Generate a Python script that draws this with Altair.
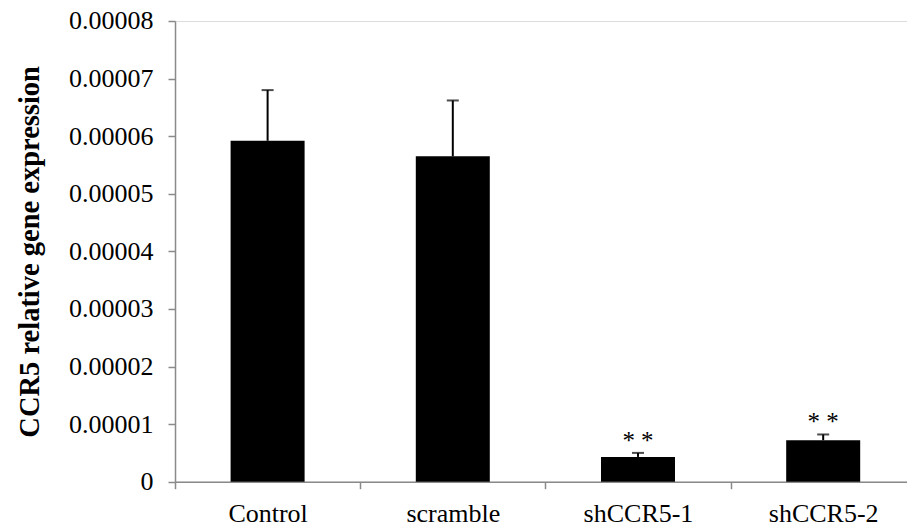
import altair as alt
import pandas as pd

categories = ["Control", "scramble", "shCCR5-1", "shCCR5-2"]
means = [0.0000592, 0.0000565, 0.0000043, 0.0000072]
upper = [0.0000680, 0.0000662, 0.0000050, 0.0000082]
stars = ["", "", "* *", "* *"]
y_ticks = [0, 0.00001, 0.00002, 0.00003, 0.00004, 0.00005, 0.00006, 0.00007, 0.00008]

df = pd.DataFrame({"cat": categories, "mean": means, "upper": upper, "star": stars})

FONT = "Liberation Serif"
AXIS_GRAY = "#8a8a8a"

xscale = alt.Scale(domain=categories, range=[0, 740.8], paddingInner=0, paddingOuter=0)
yscale = alt.Scale(domain=[0, 0.00008], nice=False, zero=True)

x_enc = alt.X(
    "cat:N",
    scale=xscale,
    sort=categories,
    axis=alt.Axis(
        title=None,
        labelAngle=0,
        labelFont=FONT,
        labelFontSize=26,
        labelColor="black",
        labelPadding=12,
        tickBand="extent",
        tickSize=7,
        tickColor=AXIS_GRAY,
        tickWidth=1.5,
        domainColor=AXIS_GRAY,
        domainWidth=1.5,
        grid=False,
    ),
)

y_enc = alt.Y(
    "mean:Q",
    scale=yscale,
    axis=alt.Axis(
        title="CCR5 relative gene expression",
        titleFont=FONT,
        titleFontSize=28.5,
        titleFontWeight="bold",
        titleColor="black",
        titlePadding=24,
        values=y_ticks,
        labelExpr="datum.value == 0 ? '0' : format(datum.value, '.5f')",
        labelFont=FONT,
        labelFontSize=26,
        labelColor="black",
        labelPadding=15,
        tickSize=7,
        tickColor=AXIS_GRAY,
        tickWidth=1.5,
        domainColor=AXIS_GRAY,
        domainWidth=1.5,
        grid=False,
    ),
)

base = alt.Chart(df)

bars = base.mark_bar(color="black", size=74).encode(x=x_enc, y=y_enc)

err = base.mark_rule(color="black", strokeWidth=2).encode(
    x=alt.X("cat:N", scale=xscale, sort=categories),
    y=alt.Y("mean:Q", scale=yscale),
    y2="upper:Q",
)

caps = base.mark_tick(color="black", orient="horizontal", size=12, thickness=2).encode(
    x=alt.X("cat:N", scale=xscale, sort=categories),
    y=alt.Y("upper:Q", scale=yscale),
)

star_text = base.mark_text(
    font=FONT, fontSize=25, color="black", baseline="alphabetic", align="center", dy=-4
).encode(
    x=alt.X("cat:N", scale=xscale, sort=categories),
    y=alt.Y("upper:Q", scale=yscale),
    text="star:N",
)

chart = (
    alt.layer(bars, err, caps, star_text)
    .properties(
        width=732,
        height=460.7,
        autosize=alt.AutoSizeParams(type="none"),
        padding={"left": 175, "top": 21, "right": 0, "bottom": 47},
    )
    .configure_view(stroke=None)
    .configure(background="white")
)

chart.save("out.html", embed_options={"renderer": "svg", "actions": False})
